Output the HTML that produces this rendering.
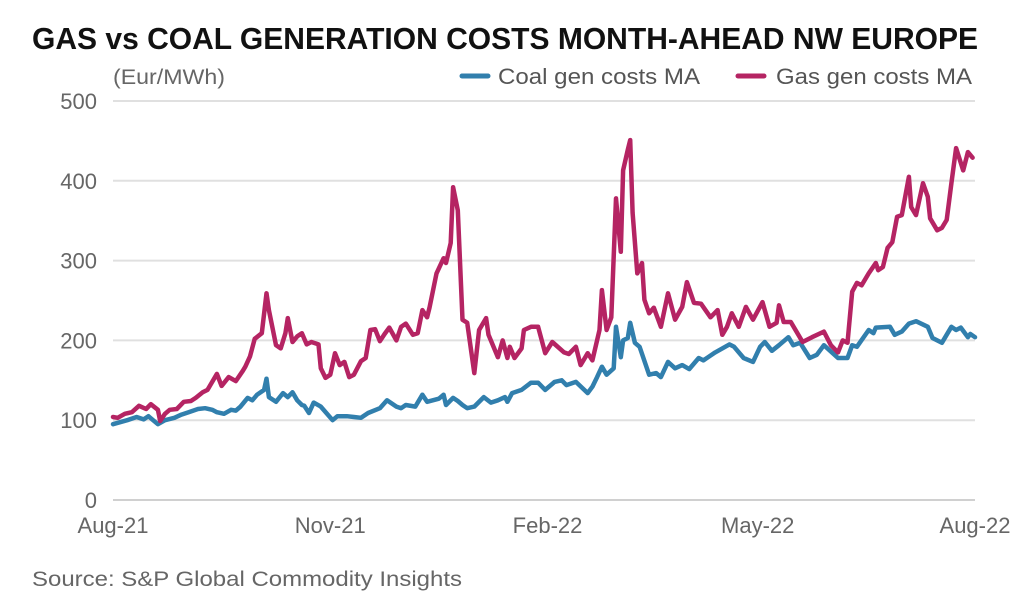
<!DOCTYPE html>
<html><head><meta charset="utf-8"><style>
html,body{margin:0;padding:0;background:#fff;}
svg{display:block;font-family:"Liberation Sans",sans-serif;}
</style></head><body>
<svg id="chart" width="1034" height="606" viewBox="0 0 1034 606">
<text x="32" y="49" font-size="31" font-weight="bold" fill="#111" textLength="946" lengthAdjust="spacingAndGlyphs">GAS vs COAL GENERATION COSTS MONTH-AHEAD NW EUROPE</text>
<text x="113" y="84" font-size="21" fill="#666" textLength="112" lengthAdjust="spacingAndGlyphs">(Eur/MWh)</text>
<g>
<line x1="462" y1="76" x2="488" y2="76" stroke="#317fad" stroke-width="5" stroke-linecap="round"/>
<text x="498" y="84" font-size="22" fill="#555" textLength="202" lengthAdjust="spacingAndGlyphs">Coal gen costs MA</text>
<line x1="738" y1="76" x2="764" y2="76" stroke="#b52463" stroke-width="5" stroke-linecap="round"/>
<text x="776" y="84" font-size="22" fill="#555" textLength="196" lengthAdjust="spacingAndGlyphs">Gas gen costs MA</text>
</g>
<g id="grid"></g>
<g id="yticks"></g>
<g id="xticks"></g>
<g id="series"></g>
<text x="32" y="586" font-size="21" fill="#666" textLength="430" lengthAdjust="spacingAndGlyphs">Source: S&amp;P Global Commodity Insights</text>
</svg>
<script>
const yTicks=[0,100,200,300,400,500];
const xLabels=["Aug-21","Nov-21","Feb-22","May-22","Aug-22"];
const xLabelDays=[0,92,184,273,365];
const gasDays=[0,2,5,8,11,14,16,19,20,22,24,27,30,33,35,38,40,42,44,46,49,52,55,56,58,60,63,65,66,69,71,73,74,76,78,80,82,84,87,88,90,92,94,96,98,100,102,105,107,109,111,113,115,117,120,122,124,127,129,131,133,134,137,140,141,143,144,146,148,150,153,155,158,159,163,165,167,168,170,173,174,177,180,183,186,191,193,196,198,201,203,206,207,209,211,213,215,216,218,219,220,222,224,225,227,229,232,235,238,241,243,246,249,253,256,258,260,262,265,268,271,275,278,281,282,284,287,292,296,301,304,307,309,311,313,315,317,320,323,324,326,328,330,332,334,337,338,340,343,345,346,349,351,353,355,357,360,362,364];
const gasValues=[104,103,108,110,118,114,120,113,99,108,113,114,123,124,128,135,138,148,158,143,154,149,162,167,180,202,209,259,238,194,190,209,228,198,205,209,195,198,195,165,153,157,184,169,173,154,157,174,178,213,214,199,208,216,200,217,221,207,209,238,229,241,284,303,297,322,392,363,226,222,159,213,228,207,179,200,178,192,178,190,213,217,217,184,198,185,183,192,169,184,175,213,263,213,229,378,311,413,439,451,360,284,297,251,234,241,217,259,226,242,273,247,246,229,238,207,217,234,217,242,226,248,217,222,244,223,223,198,204,211,194,185,200,197,261,272,269,284,297,288,292,316,323,355,357,405,367,357,397,380,353,338,341,351,397,441,413,436,429];
const coalDays=[0,6,10,13,15,17,19,22,26,29,32,36,39,42,44,47,50,52,54,57,59,61,64,65,66,69,72,74,76,78,80,81,83,85,88,93,95,99,102,105,108,113,116,120,122,124,128,131,133,138,140,141,144,146,148,150,153,157,160,163,166,167,169,173,177,180,183,187,190,192,196,201,203,205,207,209,212,213,215,216,218,219,221,223,227,230,232,235,238,241,244,248,250,252,255,258,261,263,267,271,274,276,279,282,286,288,291,295,298,301,307,311,313,315,320,322,323,329,331,334,337,340,345,347,351,355,357,359,362,363,365];
const coalValues=[95,100,104,101,105,100,95,100,103,107,110,114,115,113,110,108,113,112,117,128,125,132,138,152,129,123,134,129,135,125,119,118,109,122,117,100,105,105,104,103,109,115,125,117,115,119,117,132,123,127,132,119,128,124,119,115,117,129,122,125,129,123,134,138,147,147,138,148,150,144,148,134,142,154,167,157,165,217,179,200,203,222,197,192,157,159,154,173,165,169,164,178,175,179,185,190,195,192,178,173,192,198,187,194,204,194,197,178,182,194,178,178,194,192,213,209,216,217,207,211,221,224,217,203,197,217,213,216,204,208,204];

const X0=113,X1=975,Y0=500,Y500=101;
const xs=d=>X0+(d/365)*(X1-X0);
const ys=v=>Y0-(v/500)*(Y0-Y500);
const NS="http://www.w3.org/2000/svg";
const grid=document.getElementById('grid'),yt=document.getElementById('yticks'),xt=document.getElementById('xticks'),ser=document.getElementById('series');
yTicks.forEach(t=>{
  const l=document.createElementNS(NS,'line');
  l.setAttribute('x1',X0);l.setAttribute('x2',X1);l.setAttribute('y1',ys(t));l.setAttribute('y2',ys(t));
  l.setAttribute('stroke',t===0?'#d0d0d0':'#e0e0e0');l.setAttribute('stroke-width','2');
  
  
  grid.appendChild(l);
  const tx=document.createElementNS(NS,'text');
  tx.setAttribute('x',97);tx.setAttribute('y',ys(t)+8);tx.setAttribute('text-anchor','end');
  tx.setAttribute('font-size','22');tx.setAttribute('fill','#666');tx.textContent=t;
  
  
  yt.appendChild(tx);
});
xLabels.forEach((s,i)=>{
  const tx=document.createElementNS(NS,'text');
  tx.setAttribute('x',xs(xLabelDays[i]));tx.setAttribute('y',533);tx.setAttribute('text-anchor','middle');
  tx.setAttribute('font-size','22');tx.setAttribute('fill','#666');tx.textContent=s;
  
  
  xt.appendChild(tx);
});
function line(days,vals,color,name){
  const p=document.createElementNS(NS,'polyline');
  p.setAttribute('points',days.map((d,i)=>xs(d).toFixed(1)+','+ys(vals[i]).toFixed(1)).join(' '));
  p.setAttribute('fill','none');p.setAttribute('stroke',color);p.setAttribute('stroke-width','4.5');
  p.setAttribute('stroke-linejoin','round');p.setAttribute('stroke-linecap','round');
  
  
  ser.appendChild(p);
}
line(coalDays,coalValues,'#317fad','coal-gen-costs-line');
line(gasDays,gasValues,'#b52463','gas-gen-costs-line');
</script>
</body></html>
